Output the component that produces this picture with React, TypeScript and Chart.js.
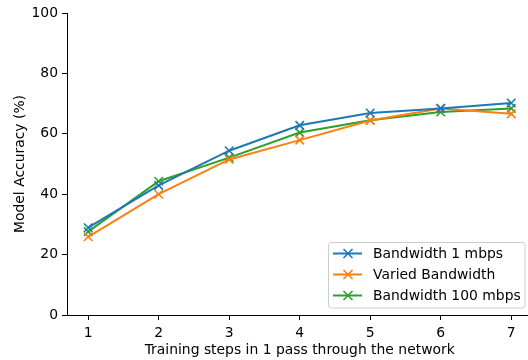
import React, { useEffect, useRef } from 'react';
import { Chart, registerables } from 'chart.js';

Chart.register(...registerables);

const steps = [1, 2, 3, 4, 5, 6, 7];
const bw1 = [28.9, 42.9, 54.4, 62.8, 66.9, 68.4, 70.2];
const varied = [25.9, 40.0, 51.5, 57.9, 64.4, 68.4, 66.6];
const bw100 = [27.6, 44.3, 52.1, 60.4, 64.5, 67.2, 68.4];
const seriesLabels = ['Bandwidth 1 mbps', 'Varied Bandwidth', 'Bandwidth 100 mbps'];
const seriesColors = ['#1f77b4', '#ff7f0e', '#2ca02c'];
const yTicks = [0, 20, 40, 60, 80, 100];
const xTitle = 'Training steps in 1 pass through the network';
const yTitle = 'Model Accuracy (%)';

const FONT = '"DejaVu Sans", sans-serif';
const FS = 13.9;

function drawX(ctx: CanvasRenderingContext2D, x: number, y: number, r: number, color: string) {
  ctx.save();
  ctx.strokeStyle = color;
  ctx.lineWidth = 1.6;
  ctx.beginPath();
  ctx.moveTo(x - r, y - r);
  ctx.lineTo(x + r, y + r);
  ctx.moveTo(x - r, y + r);
  ctx.lineTo(x + r, y - r);
  ctx.stroke();
  ctx.restore();
}

const legendPlugin = {
  id: 'innerLegend',
  afterDraw(chart: any) {
    const ctx: CanvasRenderingContext2D = chart.ctx;
    const ds = chart.data.datasets;
    const left = 328.5;
    const top = 242.5;
    const width = 196.5;
    const height = 65.5;
    ctx.save();
    ctx.beginPath();
    const r = 3;
    ctx.moveTo(left + r, top);
    ctx.lineTo(left + width - r, top);
    ctx.arcTo(left + width, top, left + width, top + r, r);
    ctx.lineTo(left + width, top + height - r);
    ctx.arcTo(left + width, top + height, left + width - r, top + height, r);
    ctx.lineTo(left + r, top + height);
    ctx.arcTo(left, top + height, left, top + height - r, r);
    ctx.lineTo(left, top + r);
    ctx.arcTo(left, top, left + r, top, r);
    ctx.closePath();
    ctx.fillStyle = 'rgba(255,255,255,0.8)';
    ctx.fill();
    ctx.strokeStyle = '#cccccc';
    ctx.lineWidth = 1;
    ctx.stroke();
    ctx.font = `${FS}px ${FONT}`;
    ctx.textBaseline = 'middle';
    ctx.textAlign = 'left';
    ds.forEach((d: any, i: number) => {
      const y = 253.5 + i * 21;
      ctx.strokeStyle = d.borderColor;
      ctx.lineWidth = 2;
      ctx.beginPath();
      ctx.moveTo(333, y);
      ctx.lineTo(362, y);
      ctx.stroke();
      drawX(ctx, 348, y, 4.5, d.borderColor);
      ctx.fillStyle = '#000';
      ctx.fillText(d.label, 373, y + 0.5);
    });
    ctx.restore();
  },
};

export default function App() {
  const ref = useRef<HTMLCanvasElement>(null);
  useEffect(() => {
    if (!ref.current) return;
    const series = [bw1, varied, bw100];
    const chart = new Chart(ref.current, {
      type: 'line',
      data: {
        datasets: series.map((s, i) => ({
          label: seriesLabels[i],
          data: s.map((v, j) => ({ x: steps[j], y: v })),
          borderColor: seriesColors[i],
          backgroundColor: seriesColors[i],
          borderWidth: 2,
          pointStyle: 'crossRot',
          pointRadius: 6,
          pointBorderWidth: 1.6,
          pointHoverRadius: 6,
          fill: false,
          tension: 0,
        })),
      },
      options: {
        animation: false,
        responsive: false,
        maintainAspectRatio: false,
        events: [],
        layout: { padding: { left: 0, top: 13, right: 7, bottom: 0 } },
        plugins: {
          legend: { display: false },
          tooltip: { enabled: false },
        },
        scales: {
          x: {
            type: 'linear',
            min: 0.7,
            max: 7.3,
            afterBuildTicks: (scale: any) => {
              scale.ticks = steps.map((v) => ({ value: v }));
            },
            afterFit: (scale: any) => {
              scale.height = 45;
            },
            grid: {
              drawOnChartArea: false,
              drawTicks: true,
              tickLength: 5,
              tickColor: '#000',
              tickWidth: 1,
            },
            border: { display: true, color: '#000', width: 1 },
            ticks: {
              color: '#000',
              font: { family: FONT, size: FS },
              padding: 5,
              maxRotation: 0,
              autoSkip: false,
            },
            title: {
              display: true,
              text: xTitle,
              color: '#000',
              font: { family: FONT, size: FS },
              padding: { top: 0, bottom: 1 },
            },
          },
          y: {
            type: 'linear',
            min: 0,
            max: 100,
            afterBuildTicks: (scale: any) => {
              scale.ticks = yTicks.map((v) => ({ value: v }));
            },
            afterFit: (scale: any) => {
              scale.width = 67;
            },
            grid: {
              drawOnChartArea: false,
              drawTicks: true,
              tickLength: 5,
              tickColor: '#000',
              tickWidth: 1,
            },
            border: { display: true, color: '#000', width: 1 },
            ticks: {
              color: '#000',
              font: { family: FONT, size: FS },
              padding: 4,
            },
            title: {
              display: true,
              text: yTitle,
              color: '#000',
              font: { family: FONT, size: FS },
              padding: { top: 12, bottom: 0 },
            },
          },
        },
      },
      plugins: [legendPlugin],
    });
    return () => chart.destroy();
  }, []);
  return (
    <div style={{ position: 'absolute', left: 0, top: 0, width: 528, height: 360, overflow: 'hidden', background: '#fff' }}>
      <canvas ref={ref} width={540} height={360} style={{ display: 'block', width: 540, height: 360 }} />
    </div>
  );
}
